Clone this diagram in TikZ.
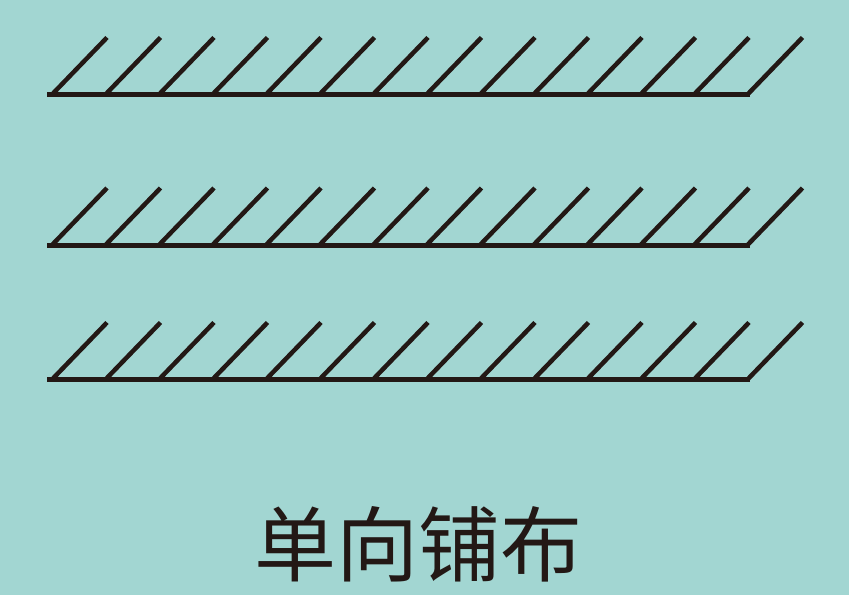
\documentclass[tikz,border=0pt]{standalone}
\usepackage{fontspec}
\newfontfamily\cjk{Noto Sans CJK SC}
\definecolor{bgteal}{HTML}{A2D6D2}
\definecolor{inkline}{HTML}{231815}
\tikzset{
  baseline/.style={draw=inkline,line width=5pt},
  hatch/.style={draw=inkline,line width=4.5pt},
  caption/.style={text=inkline,font=\cjk\fontsize{82pt}{82pt}\selectfont,inner sep=0pt,anchor=base}
}

\begin{document}
\begin{tikzpicture}[x=1pt,y=-1pt]
   \fill[bgteal] (0,0) rectangle (849,595);
   \useasboundingbox (0,0) rectangle (849,595);

   % three layers, each a base line with its hatches
   \foreach \y in {94.5,245,379.5}{
     \draw[baseline] (47,\y) -- (750,\y);
     \foreach \i in {0,...,13}
       \draw[hatch] ({52+53.5*\i},\y) -- ++(55,-57);
   }

   \node[caption] (title) at (418,575) {单向铺布};
\end{tikzpicture}
\end{document}
